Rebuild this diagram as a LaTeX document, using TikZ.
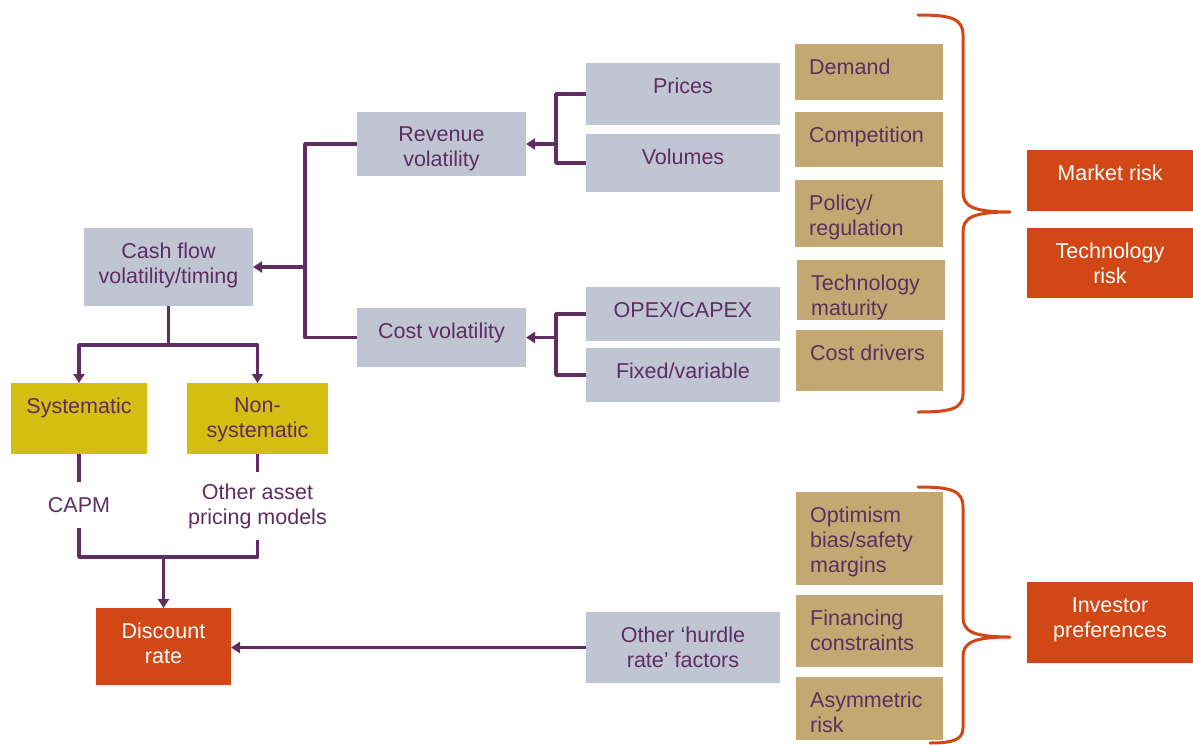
\documentclass[tikz,border=0pt]{standalone}
\usepackage{fontspec}
\setmainfont{Liberation Sans}
\usetikzlibrary{arrows.meta}
\definecolor{gry}{HTML}{BFC5D2}
\definecolor{tan}{HTML}{C4A872}
\definecolor{ylw}{HTML}{D4BE12}
\definecolor{orng}{HTML}{D24716}
\definecolor{purp}{HTML}{5F2D61}
\begin{document}
\begin{tikzpicture}[x=1pt,y=-1pt,
  bx/.style={anchor=north west, inner sep=0pt, outer sep=0pt},
  gbox/.style={bx, fill=gry},
  tbox/.style={bx, fill=tan},
  ybox/.style={bx, fill=ylw},
  obox/.style={bx, fill=orng},
  lab/.style={anchor=north, yshift=-15pt, align=center, text=purp, inner sep=0pt,
     font=\fontsize{21.5}{25}\selectfont},
  tlab/.style={lab, anchor=north west, align=left, xshift=14pt},
  wlab/.style={lab, text=white},
  txt/.style={inner sep=0pt, align=center, text=purp, font=\fontsize{21.5}{25}\selectfont},
  con/.style={draw=purp, line width=3.5pt, line join=round},
  arr/.style={con, -{Triangle[length=9pt,width=11pt]}},
  brace/.style={draw=orng, line width=3pt, line cap=round, line join=round}]
\useasboundingbox (0,0) rectangle (1193,744);

% grey boxes
\node[gbox, minimum width=169, minimum height=78, label={[lab]north:{Cash flow\\volatility/timing}}] (cf) at (84,228) {};
\node[gbox, minimum width=169, minimum height=64, label={[lab]north:{Revenue\\volatility}}] (rev) at (357,112) {};
\node[gbox, minimum width=169, minimum height=59, label={[lab]north:{Cost volatility}}] (cost) at (357,308) {};
\node[gbox, minimum width=194, minimum height=62, label={[lab]north:{Prices}}] (prices) at (586,63) {};
\node[gbox, minimum width=194, minimum height=58, label={[lab]north:{Volumes}}] (volumes) at (586,134) {};
\node[gbox, minimum width=194, minimum height=54, label={[lab]north:{OPEX/CAPEX}}] (opex) at (586,287) {};
\node[gbox, minimum width=194, minimum height=54, label={[lab]north:{Fixed/variable}}] (fixed) at (586,348) {};
\node[gbox, minimum width=194, minimum height=71, label={[lab]north:{Other ‘hurdle\\rate’ factors}}] (hurdle) at (586,612) {};

% tan boxes
\node[tbox, minimum width=148, minimum height=56, label={[tlab]north west:{Demand}}] (demand) at (795,44) {};
\node[tbox, minimum width=148, minimum height=55, label={[tlab]north west:{Competition}}] (comp) at (795,112) {};
\node[tbox, minimum width=148, minimum height=67, label={[tlab]north west:{Policy/\\regulation}}] (policy) at (795,180) {};
\node[tbox, minimum width=148, minimum height=60, label={[tlab]north west:{Technology\\maturity}}] (techmat) at (797,260) {};
\node[tbox, minimum width=147, minimum height=61, label={[tlab]north west:{Cost drivers}}] (costdr) at (796,330) {};
\node[tbox, minimum width=147, minimum height=93, label={[tlab]north west:{Optimism\\bias/safety\\margins}}] (opt) at (796,492) {};
\node[tbox, minimum width=147, minimum height=72, label={[tlab]north west:{Financing\\constraints}}] (fin) at (796,595) {};
\node[tbox, minimum width=147, minimum height=63, label={[tlab]north west:{Asymmetric\\risk}}] (asym) at (796,677) {};

% orange boxes
\node[obox, minimum width=166, minimum height=61, label={[wlab]north:{Market risk}}] (market) at (1027,150) {};
\node[obox, minimum width=166, minimum height=70, label={[wlab]north:{Technology\\risk}}] (techrisk) at (1027,228) {};
\node[obox, minimum width=166, minimum height=81, label={[wlab]north:{Investor\\preferences}}] (inv) at (1027,582) {};
\node[obox, minimum width=135, minimum height=77, label={[wlab]north:{Discount\\rate}}] (dr) at (96,608) {};

% yellow boxes
\node[ybox, minimum width=136, minimum height=71, label={[lab]north:{Systematic}}] (sys) at (11,383) {};
\node[ybox, minimum width=141, minimum height=71, label={[lab]north:{Non-\\systematic}}] (nonsys) at (187,383) {};

% free texts
\node[txt, minimum height=45] (capm) at (79,505) {CAPM};
\node[txt, minimum height=68] (oth) at (257.5,506) {Other asset\\pricing models};

% connectors
\coordinate (pv) at (556,144);
\draw[con] (prices.west) -| (pv) |- (volumes.west);
\draw[arr] (pv) -- (rev.east);
\coordinate (of) at (556,337.5);
\draw[con] (opex.west) -| (of) |- (fixed.west);
\draw[arr] (of) -- (cost.east);
\coordinate (rc) at (305,267);
\draw[con] (rev.west) -| (rc) |- (cost.west);
\draw[arr] (rc) -- (cf.east);
\coordinate (cj) at (168.5,345);
\draw[con] (cf.south) -- (cj);
\draw[arr] (cj) -| (sys.north);
\draw[arr] (cj) -| (nonsys.north);
\draw[con] (sys.south) -- (capm.north);
\draw[con] (nonsys.south) -- (oth.north);
\coordinate (j) at (163.5,557);
\draw[con] (capm.south) |- (j) -| (oth.south);
\draw[arr] (j) -- (dr.north);
\draw[arr] (hurdle.west) -- (dr.east |- hurdle.west);

% braces
\draw[brace] (918,15) .. controls (950,15) and (963,18) .. (963,35) -- (963,192)
  .. controls (963,206) and (972,212) .. (1010,212)
  .. controls (972,212) and (963,218) .. (963,232) -- (963,394)
  .. controls (963,409) and (950,412) .. (918,412);
\draw[brace] (918,487) .. controls (950,487) and (963,490) .. (963,507) -- (963,617)
  .. controls (963,631) and (972,637) .. (1010,637)
  .. controls (972,637) and (963,643) .. (963,657) -- (963,728)
  .. controls (963,740) and (952,743) .. (930,743);
\end{tikzpicture}
\end{document}
